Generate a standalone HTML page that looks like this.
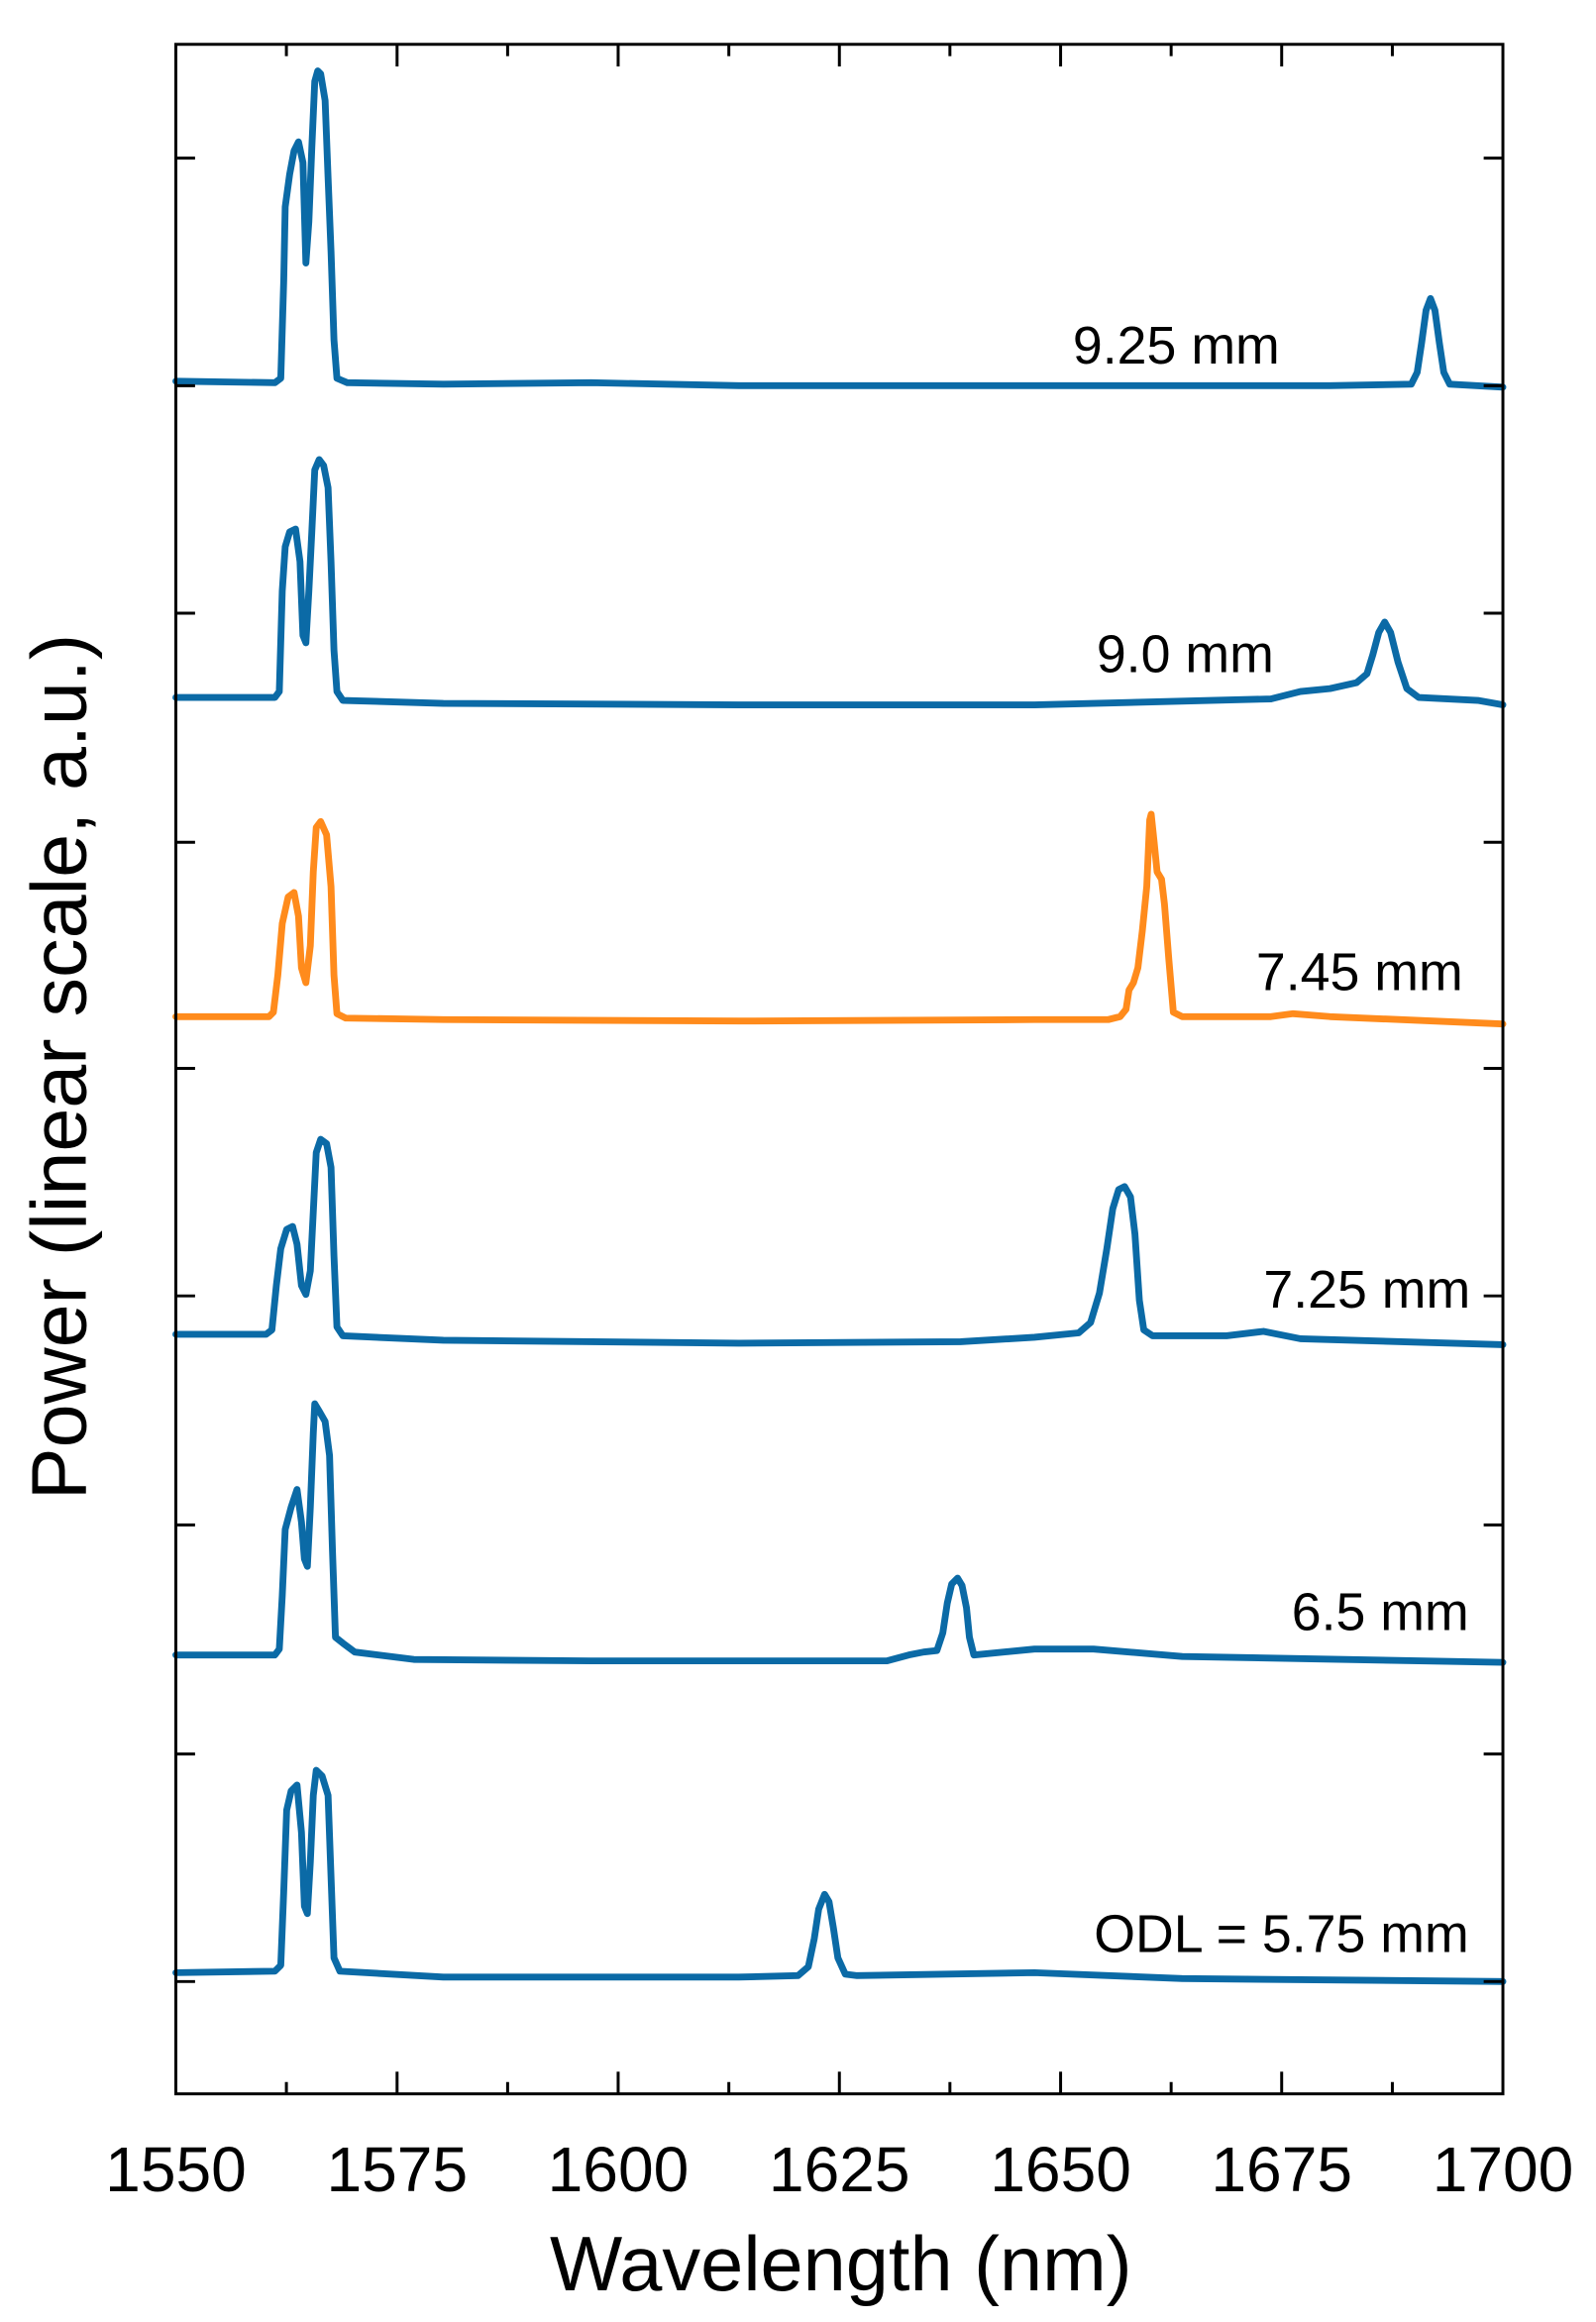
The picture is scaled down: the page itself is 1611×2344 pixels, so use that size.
<!DOCTYPE html>
<html><head><meta charset="utf-8"><style>
html,body{margin:0;padding:0;background:#fff}
svg{display:block}
text{font-family:"Liberation Sans",Arial,sans-serif;fill:#000}
</style></head><body>
<svg width="1611" height="2344" viewBox="0 0 1080 1571.4" xmlns="http://www.w3.org/2000/svg">
<g fill="none" stroke-linejoin="round" stroke-linecap="round" stroke-width="4.6">
<!-- 9.25 -->
<polyline stroke="#0b6aa6" points="119,258 186,259 190,256 192,190 193,140 196,118 199,102 202,96 205,110 207,178 209,150 211,100 213,55 215,48 217,50 220,68 222,120 224,170 226,230 228,256 235,259 300,260 400,259 500,261 700,261 900,261 955,260 959,252 962,232 965,210 968,202 971,210 974,232 977,252 981,260 1017,262"/>
<!-- 9.0 -->
<polyline stroke="#0b6aa6" points="119,472 186,472 189,468 191,400 193,370 196,360 200,358 203,380 205,430 207,435 209,400 211,360 213,318 216,311 219,315 222,330 224,380 226,440 228,468 232,474 300,476 500,477 700,477 860,473 880,468 900,466 918,462 925,456 929,443 933,428 937,421 941,428 946,448 952,466 960,472 1000,474 1017,477"/>
<!-- 7.45 -->
<polyline stroke="#ff8b1c" points="119,688 182,688 185,685 188,660 191,625 195,607 199,604 202,620 204,655 207,665 210,640 212,590 214,560 217,556 221,565 224,600 226,660 228,686 234,689 300,690 500,691 700,690 750,690 758,688 762,683 764,670 767,665 770,655 773,630 776,600 778,555 779,551 781,570 783,590 786,595 788,612 791,650 794,685 800,688 860,688 875,686 900,688 1017,693"/>
<!-- 7.25 -->
<polyline stroke="#0b6aa6" points="119,903 180,903 184,900 187,870 190,845 194,832 198,830 201,842 204,870 207,876 210,860 212,820 214,780 217,771 221,774 224,790 226,850 228,898 232,904 300,907 500,909 650,908 700,905 730,902 738,895 744,875 749,845 753,818 757,805 761,803 765,810 768,835 771,880 774,900 780,904 830,904 855,901 880,906 1017,910"/>
<!-- 6.5 -->
<polyline stroke="#0b6aa6" points="119,1120 186,1120 189,1116 191,1080 193,1035 197,1020 201,1008 204,1030 206,1055 208,1060 210,1020 212,970 213,950 216,955 220,962 223,985 225,1050 227,1108 232,1112 240,1118 280,1123 400,1124 600,1124 615,1120 625,1118 634,1117 638,1105 641,1085 644,1072 648,1068 651,1073 654,1088 656,1108 659,1120 700,1116 740,1116 800,1121 1017,1125"/>
<!-- 5.75 -->
<polyline stroke="#0b6aa6" points="119,1335 186,1334 190,1330 192,1280 194,1225 197,1212 201,1208 204,1240 206,1290 208,1295 210,1260 212,1215 214,1198 218,1202 222,1215 224,1270 226,1325 230,1334 300,1338 500,1338 540,1337 547,1331 551,1312 554,1292 558,1282 561,1287 564,1305 567,1325 572,1336 580,1337 700,1335 800,1339 1017,1341"/>
</g>
<!-- axes -->
<rect x="119" y="30" width="898" height="1387" fill="none" stroke="#000" stroke-width="2"/>
<g stroke="#000" stroke-width="2">
<line x1="119" y1="107" x2="132" y2="107"/><line x1="1017" y1="107" x2="1004" y2="107"/>
<line x1="119" y1="261" x2="132" y2="261"/><line x1="1017" y1="261" x2="1004" y2="261"/>
<line x1="119" y1="415" x2="132" y2="415"/><line x1="1017" y1="415" x2="1004" y2="415"/>
<line x1="119" y1="570" x2="132" y2="570"/><line x1="1017" y1="570" x2="1004" y2="570"/>
<line x1="119" y1="723" x2="132" y2="723"/><line x1="1017" y1="723" x2="1004" y2="723"/>
<line x1="119" y1="877" x2="132" y2="877"/><line x1="1017" y1="877" x2="1004" y2="877"/>
<line x1="119" y1="1032" x2="132" y2="1032"/><line x1="1017" y1="1032" x2="1004" y2="1032"/>
<line x1="119" y1="1187" x2="132" y2="1187"/><line x1="1017" y1="1187" x2="1004" y2="1187"/>
<line x1="119" y1="1341" x2="132" y2="1341"/><line x1="1017" y1="1341" x2="1004" y2="1341"/>
<line x1="268.7" y1="1417" x2="268.7" y2="1402"/><line x1="418.3" y1="1417" x2="418.3" y2="1402"/>
<line x1="568" y1="1417" x2="568" y2="1402"/><line x1="717.7" y1="1417" x2="717.7" y2="1402"/>
<line x1="867.3" y1="1417" x2="867.3" y2="1402"/>
<line x1="193.8" y1="1417" x2="193.8" y2="1409"/><line x1="343.5" y1="1417" x2="343.5" y2="1409"/>
<line x1="493.2" y1="1417" x2="493.2" y2="1409"/><line x1="642.8" y1="1417" x2="642.8" y2="1409"/>
<line x1="792.5" y1="1417" x2="792.5" y2="1409"/><line x1="942.2" y1="1417" x2="942.2" y2="1409"/>
<line x1="268.7" y1="30" x2="268.7" y2="45"/><line x1="418.3" y1="30" x2="418.3" y2="45"/>
<line x1="568" y1="30" x2="568" y2="45"/><line x1="717.7" y1="30" x2="717.7" y2="45"/>
<line x1="867.3" y1="30" x2="867.3" y2="45"/>
<line x1="193.8" y1="30" x2="193.8" y2="38"/><line x1="343.5" y1="30" x2="343.5" y2="38"/>
<line x1="493.2" y1="30" x2="493.2" y2="38"/><line x1="642.8" y1="30" x2="642.8" y2="38"/>
<line x1="792.5" y1="30" x2="792.5" y2="38"/><line x1="942.2" y1="30" x2="942.2" y2="38"/>
</g>
<g font-size="43" text-anchor="middle">
<text x="119" y="1483">1550</text><text x="268.7" y="1483">1575</text><text x="418.3" y="1483">1600</text>
<text x="568" y="1483">1625</text><text x="717.7" y="1483">1650</text><text x="867.3" y="1483">1675</text>
<text x="1017" y="1483">1700</text>
</g>
<text x="569" y="1550" font-size="52" text-anchor="middle">Wavelength (nm)</text>
<text transform="translate(58,722) rotate(-90)" font-size="53" text-anchor="middle">Power (linear scale, a.u.)</text>
<g font-size="36" text-anchor="end">
<text x="866" y="246">9.25 mm</text>
<text x="862" y="455">9.0 mm</text>
<text x="990" y="670">7.45 mm</text>
<text x="995" y="885">7.25 mm</text>
<text x="994" y="1103">6.5 mm</text>
<text x="994" y="1321">ODL = 5.75 mm</text>
</g>
</svg>
</body></html>
